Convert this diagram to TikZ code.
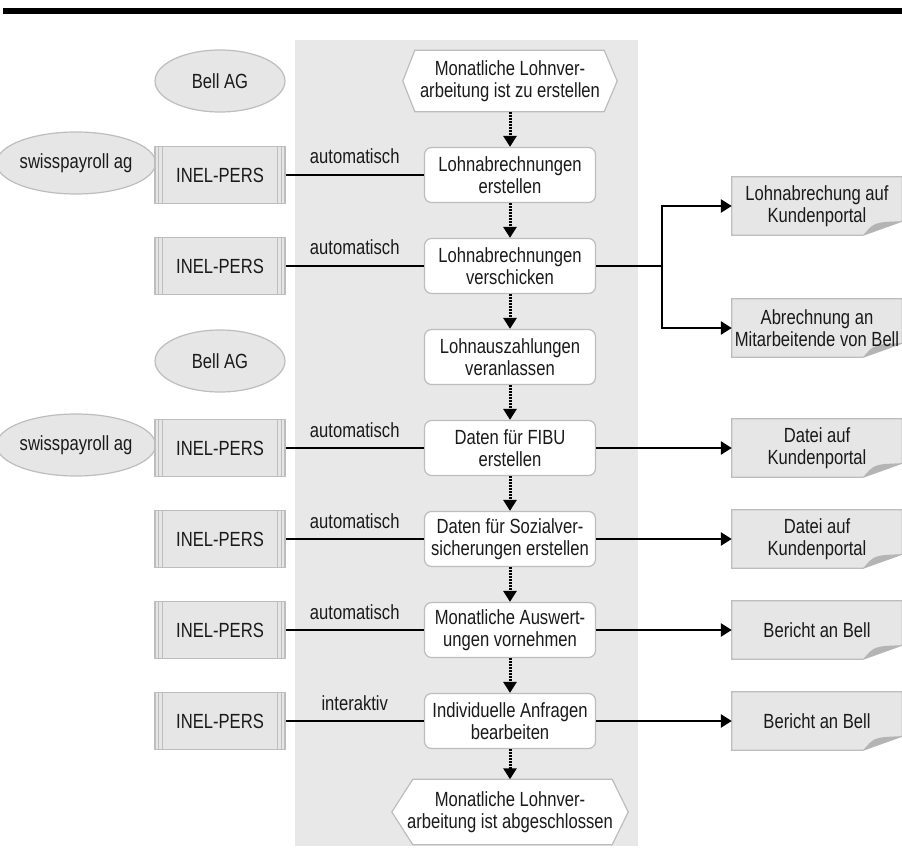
\documentclass[tikz,border=0pt]{standalone}
\usepackage{fontspec}
\setmainfont{Liberation Sans}[FakeStretch=0.81]
\usetikzlibrary{arrows.meta,calc,shapes.geometric}
\pgfdeclarelayer{back}\pgfdeclarelayer{mid}
\pgfsetlayers{back,mid,main}
\definecolor{bandc}{HTML}{E8E8E8}
\definecolor{edgec}{HTML}{BDBDBD}
\definecolor{greyfill}{HTML}{E6E6E6}
\definecolor{foldc}{HTML}{B4B4B4}
\definecolor{textc}{HTML}{1A1A1A}
\begin{document}
\begin{tikzpicture}[x=1pt,y=-1pt,
  txt/.style={font=\fontsize{20.5}{22}\selectfont, text=textc, align=center, inner sep=0pt},
  proc/.style={txt, draw=edgec, fill=white, rounded corners=7pt, line width=1.2pt, minimum width=171pt, minimum height=55pt},
  hexnode/.style={txt, minimum width=#1, minimum height=61pt},
  actor/.style={txt, ellipse, draw=edgec, fill=greyfill, line width=1.2pt, minimum width=130pt, minimum height=62pt},
  sysbox/.style={txt, draw=edgec, fill=greyfill, line width=1.2pt, minimum width=130pt, minimum height=57pt,
    path picture={
      \draw[edgec, line width=1pt] ([xshift=3.5pt]path picture bounding box.north west) -- ([xshift=3.5pt]path picture bounding box.south west);
      \draw[edgec, line width=1pt] ([xshift=7.5pt]path picture bounding box.north west) -- ([xshift=7.5pt]path picture bounding box.south west);
      \draw[edgec, line width=1pt] ([xshift=-3.5pt]path picture bounding box.north east) -- ([xshift=-3.5pt]path picture bounding box.south east);
      \draw[edgec, line width=1pt] ([xshift=-7.5pt]path picture bounding box.north east) -- ([xshift=-7.5pt]path picture bounding box.south east);
    }},
  docnode/.style={txt, minimum width=170pt, minimum height=58pt},
  docline/.style={draw=edgec, fill=greyfill, line width=1.2pt},
  hexline/.style={draw=edgec, fill=white, line width=1.2pt},
  flow/.style={line width=3pt, dash pattern=on 2pt off 1pt, -{Triangle[length=11pt,width=13pt]}},
  conn/.style={line width=1.6pt, black},
  outarrow/.style={line width=2.6pt, black, -{Triangle[length=11pt,width=13pt]}},
  lbl/.style={txt, inner sep=0pt}
]
\useasboundingbox (0,0) rectangle (902,850);
\fill[black] (3,8.5) rectangle (902,14);
\begin{pgfonlayer}{back}
\fill[bandc] (295,40) rectangle (638,846);
\end{pgfonlayer}

% process column
\node[hexnode=214pt] (hs) at (510,81) {Monatliche Lohnver-\\arbeitung ist zu erstellen};
\node[proc] (b1) at (510,175) {Lohnabrechnungen\\erstellen};
\node[proc] (b2) at (510,266) {Lohnabrechnungen\\verschicken};
\node[proc] (b3) at (510,357) {Lohnauszahlungen\\veranlassen};
\node[proc] (b4) at (510,448) {Daten für FIBU\\erstellen};
\node[proc] (b5) at (510,539) {Daten für Sozialver-\\sicherungen erstellen};
\node[proc] (b6) at (510,630) {Monatliche Auswert-\\ungen vornehmen};
\node[proc] (b7) at (510,721) {Individuelle Anfragen\\bearbeiten};
\node[hexnode=236pt, minimum height=65pt] (he) at (510,812) {Monatliche Lohnver-\\arbeitung ist abgeschlossen};

\begin{pgfonlayer}{mid}
\draw[hexline] (hs.west) -- ([xshift=12pt]hs.north west) -- ([xshift=-13pt]hs.north east) -- (hs.east)
  -- ([xshift=-13pt]hs.south east) -- ([xshift=12pt]hs.south west) -- cycle;
\draw[hexline] (he.west) -- ([xshift=21pt]he.north west) -- ([xshift=-16pt]he.north east) -- (he.east)
  -- ([xshift=-16pt]he.south east) -- ([xshift=21pt]he.south west) -- cycle;
\end{pgfonlayer}

% actors
\node[actor] (a1) at (220,81) {Bell AG};
\node[actor] (a2) at (76,163) {swisspayroll ag};
\node[actor] (a3) at (220,361) {Bell AG};
\node[actor] (a4) at (76,445) {swisspayroll ag};

% systems
\node[sysbox] (s1) at (220,175) {INEL-PERS};
\node[sysbox] (s2) at (220,266) {INEL-PERS};
\node[sysbox] (s4) at (220,448) {INEL-PERS};
\node[sysbox] (s5) at (220,539) {INEL-PERS};
\node[sysbox] (s6) at (220,630) {INEL-PERS};
\node[sysbox] (s7) at (220,721) {INEL-PERS};

% documents
\node[docnode] (d1) at (817,206) {Lohnabrechung auf\\Kundenportal};
\node[docnode] (d2) at (817,328) {Abrechnung an\\Mitarbeitende von Bell};
\node[docnode] (d3) at (817,448) {Datei auf\\Kundenportal};
\node[docnode] (d4) at (817,539) {Datei auf\\Kundenportal};
\node[docnode] (d5) at (817,630) {Bericht an Bell};
\node[docnode] (d6) at (817,721) {Bericht an Bell};

\begin{pgfonlayer}{mid}
\foreach \d in {d1,d2,d3,d4,d5,d6}{
  \draw[docline] (\d.north west) -- (\d.north east) -- ([yshift=14pt]\d.south east)
     -- ([xshift=-39pt]\d.south east) -- (\d.south west) -- cycle;
  \fill[foldc] ([xshift=-39pt]\d.south east) .. controls ([xshift=-28pt,yshift=13pt]\d.south east) .. ([yshift=14pt]\d.south east) -- cycle;
}
\end{pgfonlayer}

% flow arrows
\draw[flow] (hs) -- (b1);
\draw[flow] (b1) -- (b2);
\draw[flow] (b2) -- (b3);
\draw[flow] (b3) -- (b4);
\draw[flow] (b4) -- (b5);
\draw[flow] (b5) -- (b6);
\draw[flow] (b6) -- (b7);
\draw[flow] (b7) -- (he);

% system connectors
\draw[conn] (s1) -- node[lbl, above=10pt] {automatisch} (b1);
\draw[conn] (s2) -- node[lbl, above=10pt] {automatisch} (b2);
\draw[conn] (s4) -- node[lbl, above=10pt] {automatisch} (b4);
\draw[conn] (s5) -- node[lbl, above=10pt] {automatisch} (b5);
\draw[conn] (s6) -- node[lbl, above=10pt] {automatisch} (b6);
\draw[conn] (s7) -- node[lbl, above=10pt] {interaktiv} (b7);

% output arrows
\coordinate (br) at (662,266);
\draw[line width=2.6pt] (b2) -- (br);
\draw[outarrow] (br) |- (d1);
\draw[outarrow] (br) |- (d2);
\draw[outarrow] (b4) -- (d3);
\draw[outarrow] (b5) -- (d4);
\draw[outarrow] (b6) -- (d5);
\draw[outarrow] (b7) -- (d6);
\end{tikzpicture}
\end{document}
